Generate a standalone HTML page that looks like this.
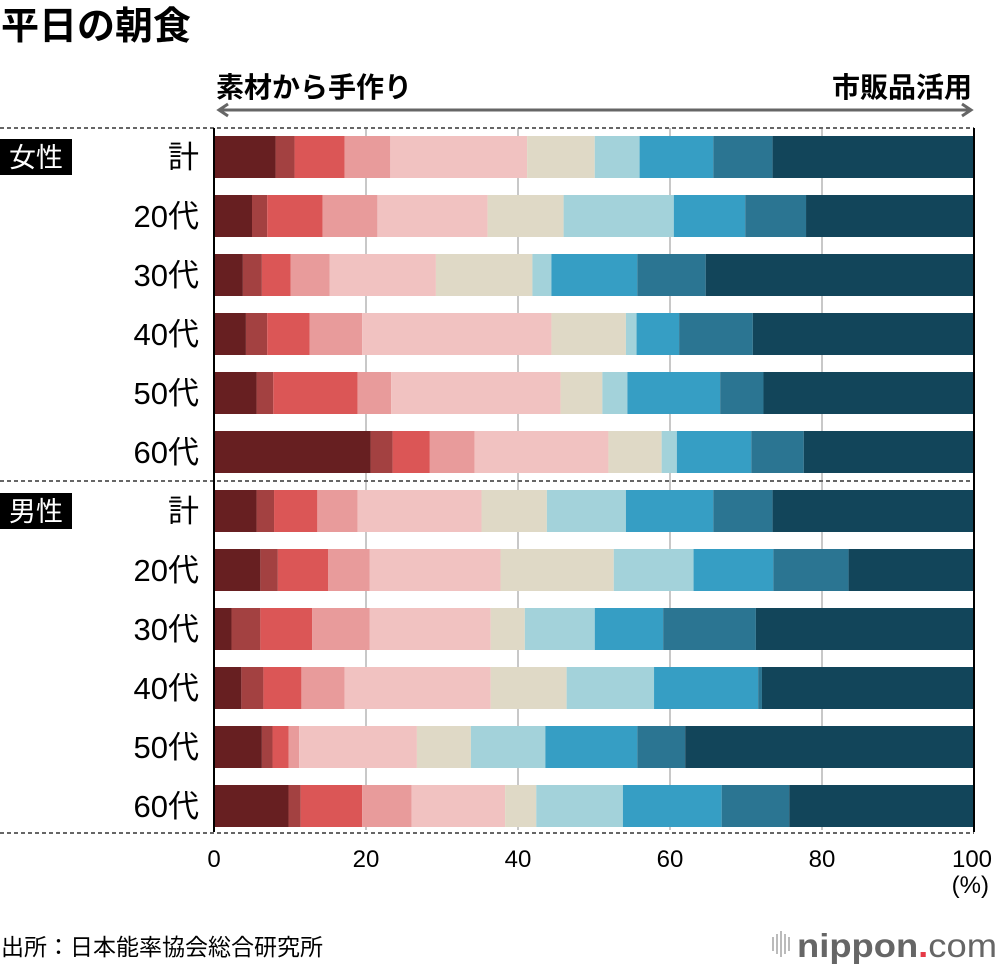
<!DOCTYPE html>
<html><head><meta charset="utf-8"><style>
html,body{margin:0;padding:0;background:#fff;}
body{width:1000px;height:966px;overflow:hidden;font-family:"Liberation Sans","Noto Sans CJK JP",sans-serif;}
</style></head><body>
<svg id="chart" width="1000" height="966" xmlns="http://www.w3.org/2000/svg" style="font-family:'Liberation Sans','Noto Sans CJK JP',sans-serif">
<text x="1" y="39" font-size="38" font-weight="bold" fill="#000">平日の朝食</text>
<text x="216" y="97" font-size="28" font-weight="bold" fill="#000">素材から手作り</text>
<text x="972" y="97" font-size="28" font-weight="bold" fill="#000" text-anchor="end">市販品活用</text>
<g stroke="#666" stroke-width="3" fill="none">
<line x1="220" y1="110" x2="970" y2="110"/>
<polyline points="228,104 219,110 228,116"/>
<polyline points="962,104 971,110 962,116"/>
</g>
<g id="grid"></g>
<g id="bars"></g>
<g id="labels"></g>
<text x="989" y="893" font-size="24" text-anchor="end" fill="#000">(%)</text>
<text x="1" y="955" font-size="23" fill="#000">出所：日本能率協会総合研究所</text>
<g>
<g fill="#bbb"><rect x="772" y="937" width="2" height="14"/><rect x="776" y="934" width="2" height="20"/><rect x="780" y="931" width="2" height="26"/><rect x="784" y="934" width="2" height="20"/><rect x="788" y="937" width="2" height="14"/></g>
<text x="997" y="957" font-size="33" fill="#666" font-weight="bold" text-anchor="end" textLength="200" lengthAdjust="spacingAndGlyphs">nippon<tspan fill="#e63946">.</tspan><tspan font-weight="normal">com</tspan></text>
</g>
</svg>
<script>
const categories=["計","20代","30代","40代","50代","60代","計","20代","30代","40代","50代","60代"];
const groups=["女性","男性"];
const s1=[8.1,5.0,3.8,4.2,5.6,20.6,5.6,6.1,2.3,3.6,6.3,9.8];
const s2=[2.5,2.0,2.5,2.8,2.2,2.9,2.3,2.3,3.8,2.9,1.4,1.6];
const s3=[6.6,7.3,3.8,5.6,11.1,4.9,5.7,6.6,6.8,5.0,2.1,8.1];
const s4=[6.0,7.2,5.1,6.9,4.4,5.9,5.3,5.5,7.6,5.7,1.4,6.5];
const s5=[18.0,14.5,14.0,24.9,22.3,17.6,16.3,17.2,15.9,19.2,15.5,12.3];
const s6=[8.9,10.0,12.7,9.8,5.5,7.0,8.6,14.9,4.5,10.0,7.1,4.1];
const s7=[5.9,14.5,2.5,1.4,3.3,2.0,10.4,10.5,9.2,11.5,9.8,11.4];
const s8=[9.7,9.4,11.3,5.6,12.2,9.8,11.5,10.5,9.0,13.7,12.1,13.0];
const s9=[7.8,8.0,9.0,9.7,5.7,6.9,7.8,9.9,12.2,0.5,6.3,8.9];
const s10=[26.5,22.1,35.3,29.1,27.7,22.4,26.5,16.5,28.7,27.9,38.0,24.3];
const series=[s1,s2,s3,s4,s5,s6,s7,s8,s9,s10];
const colors=["#671f21","#a34141","#db5656","#e89b9b","#f1c2c1","#dfd9c6","#a3d2da","#369ec4","#2b7592","#12455a"];
const ticks=[0,20,40,60,80,100];
const X0=214,X1=974;
const xs=v=>X0+(X1-X0)*v/100;
const NS="http://www.w3.org/2000/svg";
function mk(t,a,p){const e=document.createElementNS(NS,t);for(const k in a)e.setAttribute(k,a[k]);p.appendChild(e);return e;}
const grid=document.getElementById('grid'),bars=document.getElementById('bars'),labels=document.getElementById('labels');
ticks.forEach(t=>{
 if(t>0&&t<100){const g=mk('line',{x1:xs(t),x2:xs(t),y1:128,y2:830,stroke:'#c8c8c8','stroke-width':2},grid);
 
 }
 const tl=mk('text',{x:xs(t)-(t==100?2:0),y:867,'font-size':24,'text-anchor':'middle',fill:'#000'},labels);
 tl.textContent=t;
 
 
});
[128,481,833].forEach(y=>{const d=mk('line',{x1:0,x2:974,y1:y,y2:y,stroke:'#666','stroke-width':2,'stroke-dasharray':'4,3'},grid);
 
 });
categories.forEach((c,i)=>{
 const y=136+i*59;
 let cum=0;
 series.forEach((s,k)=>{
  const r=mk('rect',{x:xs(cum),y:y,width:xs(cum+s[i])-xs(cum),height:42,fill:colors[k]},bars);
  
  
  cum+=s[i];
 });
 const t=mk('text',{x:199,y:y+32,'font-size':31,'text-anchor':'end',fill:'#000'},labels);
 t.textContent=c;
 
 
});
groups.forEach((g,j)=>{
 const y=136+j*6*59;
 const b=mk('rect',{x:0,y:y+3,width:72,height:36,fill:'#000'},labels);
 
 
 const t=mk('text',{x:36,y:y+31,'font-size':27,'text-anchor':'middle',fill:'#fff'},labels);
 t.textContent=g;
 
 
});
[X0,X1].forEach(x=>{const a=mk('line',{x1:x,x2:x,y1:128,y2:832,stroke:'#000','stroke-width':2},labels);
 
 });
</script>
</body></html>
